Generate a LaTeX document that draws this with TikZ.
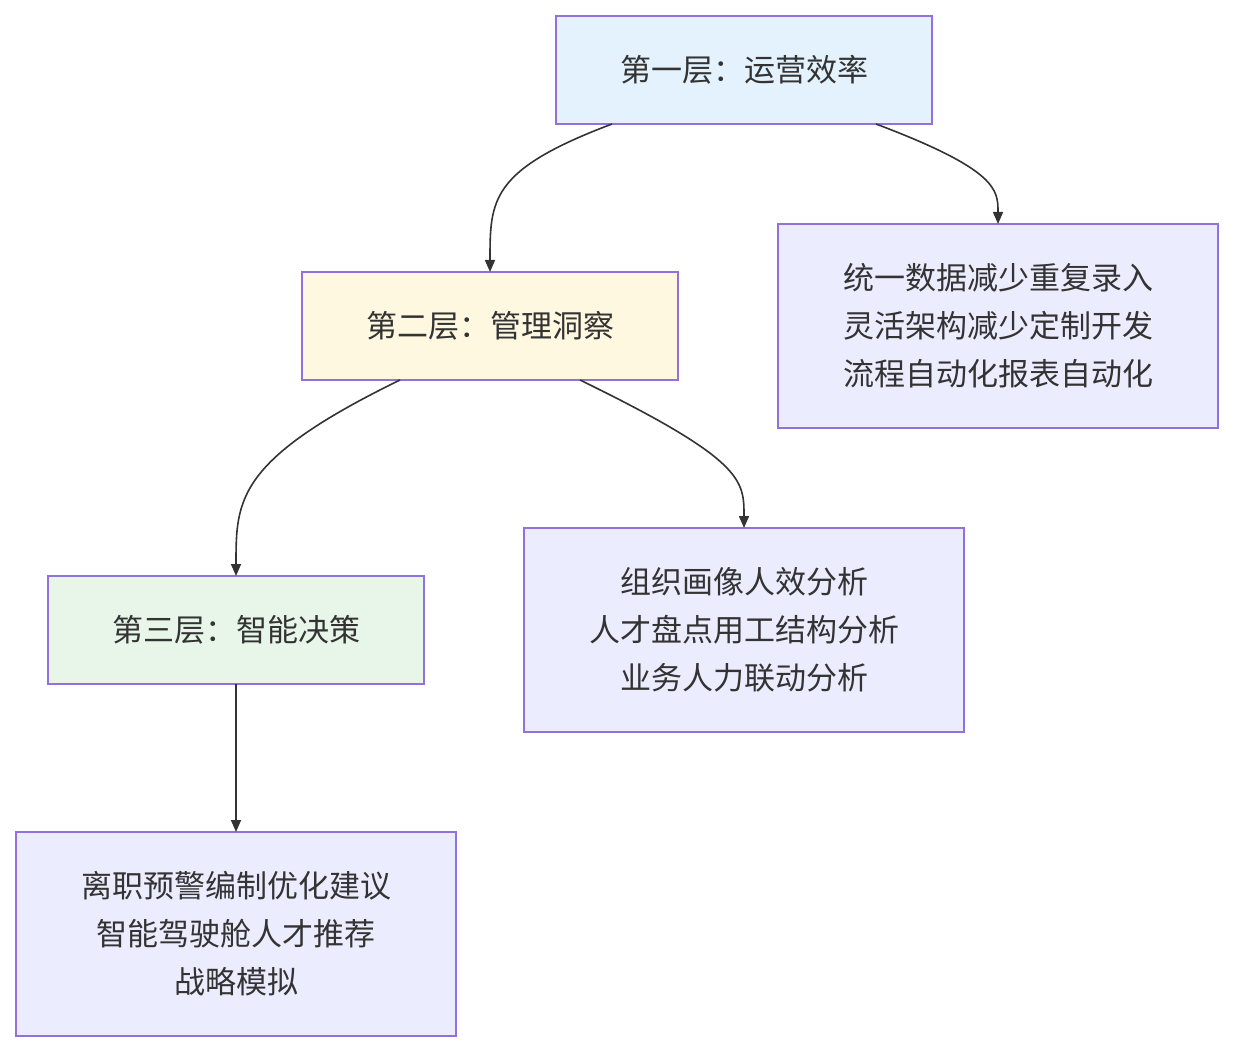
\documentclass[tikz,border=0pt]{standalone}
\usepackage{fontspec}
\setmainfont{Noto Sans CJK SC}
\usetikzlibrary{arrows.meta}
\definecolor{edge}{HTML}{9370DB}
\definecolor{blueish}{HTML}{E3F2FD}
\definecolor{yellowish}{HTML}{FFF8E1}
\definecolor{greenish}{HTML}{E8F5E9}
\definecolor{lavender}{HTML}{ECECFF}
\definecolor{ink}{HTML}{333333}
\tikzset{
  layer/.style={draw=edge, line width=0.8pt, minimum width=188pt, minimum height=54pt, outer sep=0pt, text=ink, font=\fontsize{15.5}{24}\selectfont},
  detail/.style={draw=edge, fill=lavender, line width=0.8pt, minimum width=220pt, minimum height=102pt, outer sep=0pt, text=ink, align=center, font=\fontsize{15.5}{24}\selectfont},
  link/.style={draw=ink, line width=0.8pt, -{Triangle[length=6pt,width=5pt]}}
}
\begin{document}
\begin{tikzpicture}[x=0.5pt,y=-0.5pt]
    \useasboundingbox (0,0) rectangle (1234,1052);
    \node[layer, fill=blueish] (one) at (744,70) {第一层：运营效率};
    \node[detail] (oneinfo) at (998,326) {统一数据减少重复录入\\灵活架构减少定制开发\\流程自动化报表自动化};
    \node[layer, fill=yellowish] (two) at (490,326) {第二层：管理洞察};
    \node[detail] (twoinfo) at (744,630) {组织画像人效分析\\人才盘点用工结构分析\\业务人力联动分析};
    \node[layer, fill=greenish] (three) at (236,630) {第三层：智能决策};
    \node[detail] (threeinfo) at (236,934) {离职预警编制优化建议\\智能驾驶舱人才推荐\\战略模拟};

    \draw[link] ([xshift=-66pt]one.south) .. controls (490,170) and (490,200) .. (two.north);
    \draw[link] ([xshift=66pt]one.south) .. controls (998,170) and (998,190) .. (oneinfo.north);
    \draw[link] ([xshift=-45pt]two.south) .. controls (236,460) and (236,500) .. (three.north);
    \draw[link] ([xshift=45pt]two.south) .. controls (744,460) and (744,480) .. (twoinfo.north);
    \draw[link] (three.south) -- (threeinfo.north);
\end{tikzpicture}
\end{document}
